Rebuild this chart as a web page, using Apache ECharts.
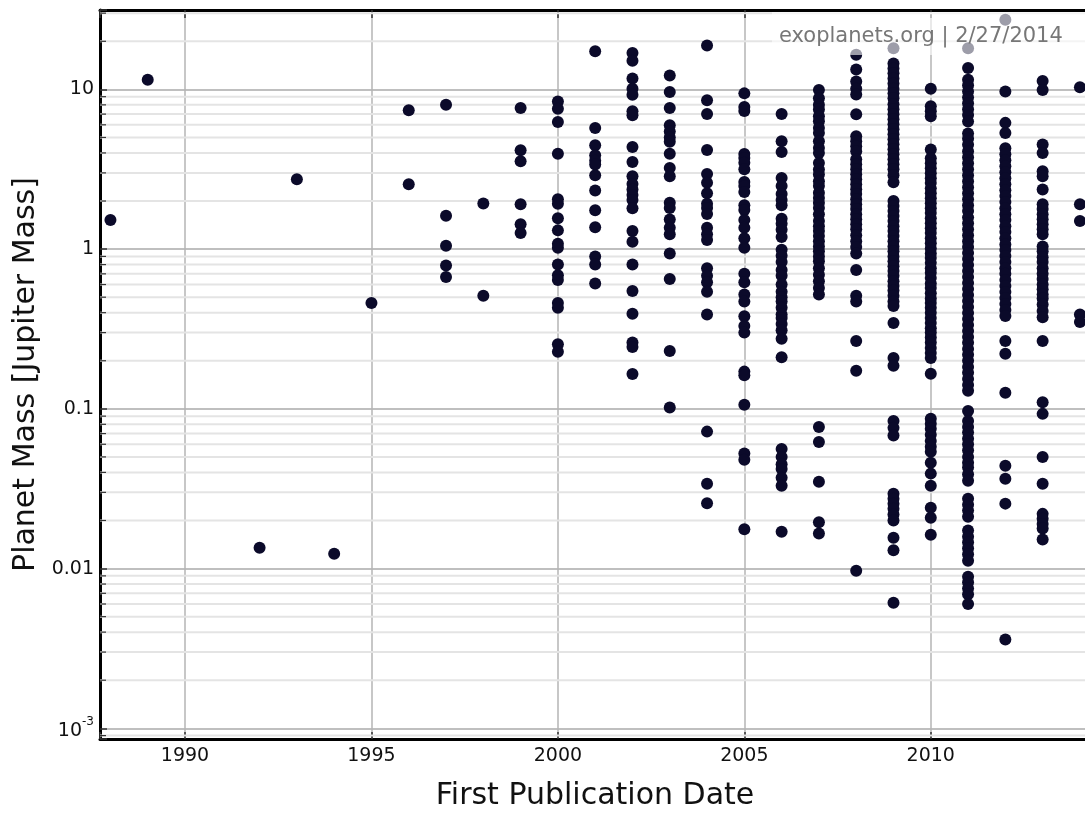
<!DOCTYPE html>
<html><head><meta charset="utf-8">
<script src="https://cdn.jsdelivr.net/npm/echarts@6/dist/echarts.min.js"></script>
<style>html,body{margin:0;padding:0;background:#fff}#c{width:1085px;height:813px}</style>
</head><body><div id="c"></div>
<script>
// ---- data: planet masses (Jupiter masses) by first publication year ----
const m1988 = [1.52];
const m1989 = [11.5];
const m1992 = [0.0135];
const m1993 = [2.74];
const m1994 = [0.0124];
const m1995 = [0.46];
const m1996 = [7.4, 2.55];
const m1997 = [8.0, 1.62, 1.05, 0.79, 0.67];
const m1998 = [1.93, 0.51];
const m1999 = [7.64, 4.16, 3.55, 1.91, 1.43, 1.26];
const m2000 = [8.41, 7.57, 6.25, 3.96, 2.05, 1.92, 1.56, 1.31, 1.08, 1.02, 0.80, 0.685, 0.64, 0.46, 0.43, 0.254, 0.228];
const m2001 = [17.3, 5.73, 4.47, 3.87, 3.58, 3.38, 2.90, 2.33, 1.75, 1.37, 0.90, 0.80, 0.61];
const m2002 = [16.9, 15.1, 11.7, 10.1, 9.26, 7.29, 6.88, 4.36, 3.51, 2.86, 2.56, 2.36, 2.18, 2.03, 1.80, 1.30, 1.11, 0.80, 0.546, 0.394, 0.26, 0.244, 0.165];
const m2003 = [12.2, 9.62, 7.64, 5.96, 5.45, 5.0, 4.7, 3.96, 3.22, 2.86, 1.95, 1.81, 1.53, 1.36, 1.24, 0.94, 0.65, 0.23, 0.102];
const m2004 = [18.8, 8.56, 7.0, 4.17, 2.95, 2.60, 2.24, 1.92, 1.81, 1.66, 1.36, 1.24, 1.14, 0.76, 0.68, 0.62, 0.54, 0.39, 0.072, 0.034, 0.0256];
const m2005 = [9.44, 7.76, 7.33, 3.94, 3.72, 3.47, 3.16, 2.63, 2.48, 2.28, 1.88, 1.76, 1.52, 1.36, 1.17, 1.02, 0.70, 0.62, 0.52, 0.47, 0.38, 0.33, 0.30, 0.171, 0.162, 0.106, 0.0525, 0.048, 0.0176];
const m2006 = [7.0, 4.73, 4.05, 2.79, 2.48, 2.21, 2.03, 1.88, 1.55, 1.44, 1.32, 1.19, 0.99, 0.91, 0.83, 0.74, 0.68, 0.60, 0.54, 0.50, 0.47, 0.43, 0.39, 0.37, 0.34, 0.31, 0.275, 0.21, 0.056, 0.050, 0.045, 0.042, 0.037, 0.033, 0.017];
const m2007 = [9.9, 8.8, 8.0, 7.47, 6.78, 6.31, 5.73, 5.33, 4.73, 4.30, 4.0, 3.46, 3.15, 2.93, 2.66, 2.48, 2.25, 2.09, 1.95, 1.81, 1.65, 1.50, 1.39, 1.30, 1.21, 1.12, 1.04, 0.97, 0.90, 0.84, 0.76, 0.69, 0.63, 0.57, 0.52, 0.077, 0.062, 0.035, 0.0195, 0.0166];
const m2008 = [16.5, 13.3, 11.2, 10.1, 9.3, 6.98, 5.08, 4.73, 4.40, 4.10, 3.65, 3.40, 3.16, 2.94, 2.74, 2.55, 2.37, 2.21, 2.05, 1.91, 1.78, 1.65, 1.54, 1.43, 1.33, 1.22, 1.12, 1.03, 0.94, 0.74, 0.51, 0.47, 0.266, 0.173, 0.0097];
const m2009 = [18.1, 14.5, 13.5, 12.6, 11.7, 10.9, 10.1, 9.44, 8.79, 8.06, 7.5, 6.98, 6.49, 6.04, 5.62, 5.23, 4.87, 4.53, 4.22, 3.92, 3.65, 3.40, 3.16, 2.90, 2.62, 2.0, 1.86, 1.73, 1.61, 1.5, 1.39, 1.30, 1.21, 1.12, 1.04, 0.97, 0.9, 0.84, 0.78, 0.73, 0.68, 0.63, 0.587, 0.55, 0.51, 0.47, 0.44, 0.345, 0.208, 0.186, 0.084, 0.076, 0.068, 0.0294, 0.0274, 0.0255, 0.0237, 0.0218, 0.020, 0.0156, 0.013, 0.0061];
const m2010 = [10.1, 7.83, 7.29, 6.78, 4.20, 3.70, 3.45, 3.21, 2.99, 2.78, 2.59, 2.40, 2.24, 2.08, 1.94, 1.80, 1.68, 1.56, 1.45, 1.35, 1.26, 1.17, 1.09, 1.01, 0.94, 0.88, 0.82, 0.76, 0.71, 0.66, 0.61, 0.57, 0.53, 0.49, 0.46, 0.43, 0.40, 0.37, 0.345, 0.32, 0.30, 0.28, 0.26, 0.24, 0.224, 0.208, 0.166, 0.0866, 0.0806, 0.075, 0.0688, 0.063, 0.0579, 0.0539, 0.046, 0.0393, 0.033, 0.024, 0.0208, 0.0163];
const m2011 = [18.1, 13.6, 11.5, 10.6, 9.7, 8.9, 8.2, 7.5, 6.9, 6.3, 5.3, 4.9, 4.5, 4.1, 3.76, 3.45, 3.16, 2.9, 2.66, 2.44, 2.24, 2.05, 1.88, 1.73, 1.58, 1.45, 1.33, 1.22, 1.12, 1.03, 0.944, 0.866, 0.794, 0.729, 0.668, 0.613, 0.562, 0.516, 0.473, 0.434, 0.398, 0.365, 0.335, 0.307, 0.282, 0.259, 0.237, 0.218, 0.2, 0.183, 0.168, 0.154, 0.141, 0.13, 0.097, 0.084, 0.077, 0.071, 0.065, 0.06, 0.055, 0.05, 0.046, 0.043, 0.039, 0.0355, 0.0274, 0.0251, 0.0231, 0.0211, 0.0173, 0.0158, 0.0146, 0.0134, 0.0123, 0.0112, 0.0089, 0.0082, 0.0075, 0.0069, 0.006];
const m2012 = [27.3, 9.7, 6.17, 5.33, 4.28, 3.92, 3.6, 3.3, 3.03, 2.78, 2.55, 2.34, 2.15, 1.97, 1.8, 1.65, 1.52, 1.39, 1.28, 1.17, 1.07, 0.986, 0.904, 0.83, 0.76, 0.70, 0.64, 0.587, 0.538, 0.494, 0.453, 0.415, 0.381, 0.266, 0.221, 0.126, 0.044, 0.0365, 0.0255, 0.0036];
const m2013 = [11.3, 9.9, 4.51, 4.0, 3.07, 2.86, 2.36, 1.91, 1.78, 1.65, 1.54, 1.43, 1.33, 1.24, 1.04, 0.97, 0.89, 0.83, 0.76, 0.70, 0.65, 0.60, 0.56, 0.52, 0.49, 0.45, 0.41, 0.375, 0.266, 0.11, 0.093, 0.05, 0.034, 0.022, 0.0205, 0.019, 0.0178, 0.0152];
const m2014 = [10.3, 1.91, 1.5, 0.39, 0.35];

const years  = [1988, 1989, 1992, 1993, 1994, 1995, 1996, 1997, 1998, 1999, 2000, 2001, 2002, 2003, 2004, 2005, 2006, 2007, 2008, 2009, 2010, 2011, 2012, 2013, 2014];
const masses = [m1988, m1989, m1992, m1993, m1994, m1995, m1996, m1997, m1998, m1999, m2000, m2001, m2002, m2003, m2004, m2005, m2006, m2007, m2008, m2009, m2010, m2011, m2012, m2013, m2014];

const xTickValues = [1990, 1995, 2000, 2005, 2010];
const yTickValues = [0.001, 0.01, 0.1, 1, 10];
const yTickLabels = ['{b|10}{s|-3}', '0.01', '0.1', '1', '10'];

const xMin = 1987.72, xMax = 2014.27;
const yMin = 0.000857, yMax = 31.4;

// minor log grid values 2..9 x 10^k
const minorVals = [];
for (let k = -4; k <= 1; k++) for (let m = 2; m <= 9; m++) {
  const v = m * Math.pow(10, k);
  if (v > yMin && v < yMax) minorVals.push(v);
}

const points = [];
years.forEach((y, i) => masses[i].forEach(v => points.push([y, v])));

const FONT = 'DejaVu Sans';
const chart = echarts.init(document.getElementById('c'), null, {renderer: 'canvas'});
chart.setOption({
  animation: false,
  backgroundColor: '#fff',
  textStyle: {fontFamily: FONT},
  grid: {left: 100, top: 10, right: -5, bottom: 74, show: false, outerBoundsMode: 'none', containLabel: false},
  xAxis: [{
    type: 'value', min: xMin, max: xMax, splitNumber: 5,
    name: 'First Publication Date', nameLocation: 'middle', nameGap: 42,
    nameTextStyle: {fontSize: 30, color: '#111', fontFamily: FONT},
    axisLine: {show: true, onZero: false, lineStyle: {color: '#000', width: 3}},
    axisTick: {show: true, inside: true, length: 7, lineStyle: {color: '#333', width: 1.5}},
    axisLabel: {fontSize: 19, color: '#111', margin: 8, fontFamily: FONT,
      formatter: v => xTickValues.some(t => Math.abs(t - v) < 1e-6) ? String(Math.round(v)) : ''},
    splitLine: {show: true, lineStyle: {color: '#b4b4b4', width: 1.5}}
  }, {
    type: 'value', min: xMin, max: xMax, splitNumber: 5, position: 'top',
    axisLine: {show: true, onZero: false, lineStyle: {color: '#000', width: 3}},
    axisLabel: {show: false}, splitLine: {show: false},
    axisTick: {show: true, inside: true, length: 8, lineStyle: {color: '#333', width: 1.5}}
  }],
  yAxis: {
    type: 'log', logBase: 10, min: yMin, max: yMax,
    name: 'Planet Mass [Jupiter Mass]', nameLocation: 'middle', nameGap: 58,
    nameTextStyle: {fontSize: 30, color: '#111', fontFamily: FONT},
    axisLine: {show: true, onZero: false, lineStyle: {color: '#000', width: 3}},
    axisTick: {show: true, inside: true, length: 7, lineStyle: {color: '#333', width: 1.5}},
    axisLabel: {fontSize: 19, color: '#111', margin: 6, fontFamily: FONT,
      formatter: v => {
        const i = yTickValues.findIndex(t => Math.abs(Math.log10(t) - Math.log10(v)) < 1e-6);
        return i >= 0 ? yTickLabels[i] : '';
      },
      rich: {b: {fontSize: 19, color: '#111', fontFamily: FONT, padding: [6, 0, 0, 0]}, s: {fontSize: 12, color: '#111', fontFamily: FONT, verticalAlign: 'top', padding: [0, 0, 6, 0]}}
    },
    splitLine: {show: true, lineStyle: {color: '#aaaaaa', width: 1.5}}
  },
  series: [{
    type: 'custom', coordinateSystem: 'cartesian2d', silent: true, z: 1,
    data: minorVals.map(v => [xMin, v]),
    renderItem: (params, api) => {
      const y = api.coord([xMin, api.value(1)])[1];
      const cs = params.coordSys;
      return {type: 'group', children: [
        {type: 'line', shape: {x1: cs.x, y1: y, x2: cs.x + cs.width, y2: y}, style: {stroke: '#e4e4e4', lineWidth: 2}},
        {type: 'line', shape: {x1: cs.x, y1: y, x2: cs.x + 6, y2: y}, style: {stroke: '#333', lineWidth: 1.2}}
      ]};
    }
  }, {
    type: 'scatter', z: 3, symbol: 'circle', symbolSize: 12,
    itemStyle: {color: '#0b0a2a', opacity: 1},
    data: points
  }],
  graphic: [{
    type: 'rect', z: 100, shape: {x: 772, y: 12, width: 320, height: 43},
    style: {fill: 'rgba(255,255,255,0.6)'}
  }, {
    type: 'text', z: 101, x: 779, y: 37,
    style: {text: 'exoplanets.org | 2/27/2014', fill: '#777', fontSize: 21, fontFamily: FONT, textVerticalAlign: 'middle'}
  }]
});
</script></body></html>
